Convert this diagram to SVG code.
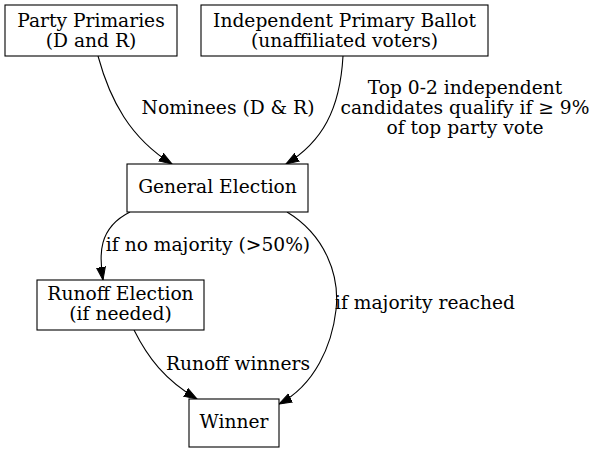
<svg xmlns="http://www.w3.org/2000/svg" width="597" height="452" viewBox="0 0 597 452">
<style>
.node rect{fill:#fff;stroke:#000;stroke-width:1.1}
text{font-family:"DejaVu Serif","Liberation Serif",serif;font-size:18.67px;fill:#000;text-anchor:middle}
.edge path{fill:none;stroke:#000;stroke-width:1.1}
</style>
<defs>
<marker id="ah" markerUnits="userSpaceOnUse" markerWidth="16" markerHeight="12" refX="13" refY="5" orient="auto" viewBox="0 0 16 12">
<path d="M0,0.5 L13,5 L0,9.5 Z" fill="#000" stroke="#000"/>
</marker>
</defs>
<rect width="597" height="452" fill="#fff"/>
<g id="edges" class="edge">
<path d="M98,56 C110,100 130,138 172,164" marker-end="url(#ah)"/>
<path d="M343,56 C340,110 322,142 286,164" marker-end="url(#ah)"/>
<path d="M130,212 C98,228 99,255 103,280" marker-end="url(#ah)"/>
<path d="M287,212 C325,235 340,275 336,310 C332,345 315,385 279,404" marker-end="url(#ah)"/>
<path d="M134,330 C148,358 165,380 197,399" marker-end="url(#ah)"/>
<text x="228" y="114">Nominees (D &amp; R)</text>
<text x="465" y="94">Top 0-2 independent</text>
<text x="465" y="114">candidates qualify if ≥ 9%</text>
<text x="465" y="134">of top party vote</text>
<text x="208" y="251">if no majority (&gt;50%)</text>
<text x="425" y="309">if majority reached</text>
<text x="238" y="370">Runoff winners</text>
</g>
<g id="party" class="node"><rect x="5" y="5" width="172" height="51"/><text x="91" y="27">Party Primaries</text><text x="91" y="47">(D and R)</text></g>
<g id="independent" class="node"><rect x="201" y="5" width="287" height="51"/><text x="344.5" y="27">Independent Primary Ballot</text><text x="344.5" y="47">(unaffiliated voters)</text></g>
<g id="general" class="node"><rect x="127" y="164" width="181" height="48"/><text x="217.5" y="193">General Election</text></g>
<g id="runoff" class="node"><rect x="37" y="280" width="167" height="50"/><text x="120.5" y="300">Runoff Election</text><text x="120.5" y="320">(if needed)</text></g>
<g id="winner" class="node"><rect x="189" y="399" width="90" height="48"/><text x="234" y="428">Winner</text></g>
</svg>
